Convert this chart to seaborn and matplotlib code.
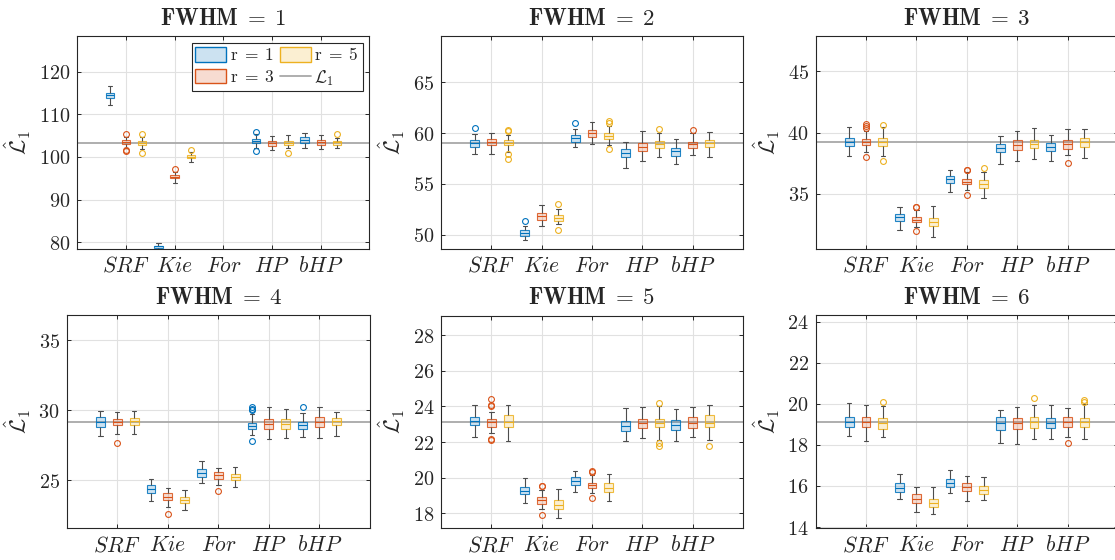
import numpy as np
import pandas as pd
import matplotlib
matplotlib.use("Agg")
import matplotlib.pyplot as plt
from matplotlib.patches import Patch
from matplotlib.lines import Line2D
import seaborn as sns

# 数据 =====================================================================
methods = ['SRF', 'Kie', 'For', 'HP', 'bHP']
r_labels = ['r = 1', 'r = 3', 'r = 5']
fwhm = [1, 2, 3, 4, 5, 6]
L1_true = [103.3, 59.07, 39.2, 29.14, 23.11, 19.1]

# 箱线图统计量, 下标 [fwhm][method][r], None = 无数据
whis_lo = [
    [[112.3, 102.1, 101.8], [78.2, 93.9, 98.8], [None] * 3, [102.1, 101.6, 102.2], [102.2, 101.8, 102.1]],
    [[57.96, 57.99, 58.1], [49.44, 50.82, 51.08], [58.65, 58.94, 58.84], [56.55, 57.24, 57.63], [56.98, 57.83, 57.63]],
    [[38.07, 38.4, 38.1], [32.09, 32.26, 31.49], [35.16, 35.35, 34.65], [37.45, 37.66, 37.85], [37.66, 38.2, 37.93]],
    [[28.14, 28.31, 28.31], [23.5, 23.12, 22.88], [24.81, 24.69, 24.55], [28.24, 27.93, 28.05], [28.07, 28.05, 28.19]],
    [[22.31, 22.49, 22.06], [18.6, 18.22, 17.76], [19.22, 19.12, 18.67], [22.04, 22.23, 22.12], [22.04, 22.31, 22.12]],
    [[18.42, 18.17, 18.38], [15.38, 14.71, 14.62], [15.64, 15.28, 15.31], [18.07, 18.04, 18.27], [18.27, 18.4, 18.27]],
]
q1 = [
    [[113.8, 103.05, 102.9], [78.7, 95.0, 99.8], [None] * 3, [103.2, 102.6, 102.8], [103.36, 102.9, 102.9]],
    [[58.68, 58.8, 58.81], [49.84, 51.47, 51.4], [59.1, 59.66, 59.43], [57.6, 58.2, 58.55], [57.76, 58.52, 58.61]],
    [[38.89, 38.99, 38.95], [32.77, 32.69, 32.36], [35.9, 35.78, 35.49], [38.4, 38.56, 38.72], [38.48, 38.7, 38.86]],
    [[28.83, 28.93, 28.93], [24.07, 23.57, 23.36], [25.26, 25.1, 25.02], [28.67, 28.67, 28.69], [28.67, 28.79, 28.93]],
    [[22.94, 22.87, 22.87], [19.07, 18.54, 18.24], [19.59, 19.4, 19.18], [22.63, 22.78, 22.82], [22.68, 22.76, 22.85]],
    [[18.85, 18.87, 18.79], [15.7, 15.17, 14.96], [15.96, 15.75, 15.62], [18.72, 18.76, 18.84], [18.8, 18.89, 18.85]],
]
median = [
    [[114.45, 103.6, 103.3], [79.0, 95.4, 100.08], [None] * 3, [103.75, 103.2, 103.3], [104.06, 103.5, 103.45]],
    [[59.0, 59.17, 59.07], [50.16, 51.8, 51.67], [59.5, 59.99, 59.73], [58.02, 58.68, 58.88], [58.19, 58.88, 59.0]],
    [[39.24, 39.27, 39.21], [33.1, 32.9, 32.72], [36.2, 36.0, 35.82], [38.72, 39.02, 39.1], [38.86, 39.08, 39.24]],
    [[29.17, 29.19, 29.21], [24.38, 23.83, 23.6], [25.55, 25.36, 25.26], [28.9, 29.02, 29.02], [28.93, 29.14, 29.21]],
    [[23.17, 23.15, 23.13], [19.27, 18.73, 18.49], [19.82, 19.57, 19.42], [22.92, 23.06, 23.06], [22.94, 23.09, 23.06]],
    [[19.1, 19.13, 19.05], [15.92, 15.38, 15.17], [16.16, 15.95, 15.82], [19.05, 19.08, 19.1], [19.08, 19.13, 19.1]],
]
q3 = [
    [[115.0, 103.95, 103.8], [79.2, 95.8, 100.5], [None] * 3, [104.2, 103.8, 103.8], [104.7, 104.06, 103.8]],
    [[59.3, 59.4, 59.33], [50.43, 52.13, 51.97], [59.8, 60.32, 60.02], [58.4, 59.05, 59.2], [58.52, 59.17, 59.33]],
    [[39.57, 39.48, 39.55], [33.37, 33.125, 33.04], [36.5, 36.2, 36.14], [39.05, 39.43, 39.43], [39.16, 39.43, 39.57]],
    [[29.5, 29.4, 29.48], [24.67, 24.07, 23.83], [25.83, 25.62, 25.45], [29.12, 29.36, 29.36], [29.19, 29.5, 29.48]],
    [[23.43, 23.32, 23.5], [19.5, 18.92, 18.75], [20.02, 19.72, 19.69], [23.19, 23.32, 23.3], [23.21, 23.43, 23.49]],
    [[19.34, 19.36, 19.29], [16.13, 15.59, 15.36], [16.34, 16.14, 15.98], [19.34, 19.31, 19.37], [19.32, 19.36, 19.33]],
]
whis_hi = [
    [[116.6, 104.8, 104.8], [79.8, 96.4, 101.1], [None] * 3, [105.3, 105.0, 105.2], [105.55, 105.1, 104.5]],
    [[59.9, 60.02, 59.85], [50.82, 52.88, 52.52], [60.38, 61.14, 60.71], [59.17, 60.25, 60.05], [59.4, 59.99, 60.15]],
    [[40.43, 40.16, 40.43], [33.91, 33.72, 33.99], [36.96, 36.77, 36.82], [39.76, 40.11, 40.38], [39.78, 40.27, 40.27]],
    [[29.98, 29.86, 29.98], [25.1, 24.43, 24.31], [26.38, 25.9, 25.98], [29.71, 30.26, 30.07], [29.83, 30.26, 29.9]],
    [[24.09, 23.71, 24.09], [19.99, 19.31, 19.37], [20.4, 20.15, 20.19], [23.92, 23.96, 24.0], [23.88, 23.99, 24.09]],
    [[20.02, 19.94, 19.89], [16.58, 15.96, 15.93], [16.78, 16.5, 16.42], [19.7, 19.86, 19.94], [19.94, 19.8, 19.99]],
]
outliers = [
    [[[], [105.4, 101.6, 101.4], [105.3, 100.9]], [[], [97.1], [101.65]], [[], [], []],
     [[105.9, 101.3], [], [100.9]], [[], [], [105.3]]],
    [[[60.48], [], [60.35, 60.25, 57.95, 57.45]], [[51.4], [], [52.98, 50.5]], [[61.0], [], [61.17, 61.04, 58.42]],
     [[], [], [60.38]], [[], [60.32], []]],
    [[[], [40.68, 40.54, 40.38, 38.04], [40.63, 37.72]], [[], [33.97, 33.9, 31.98], []], [[], [36.98, 36.93, 34.95], [37.15]],
     [[], [], []], [[], [37.55], []]],
    [[[], [27.67], []], [[], [22.6], []], [[], [24.2], []],
     [[30.24, 30.12, 30.0, 27.81], [], []], [[30.26], [], []]],
    [[[], [24.4, 24.09, 24.03, 22.18, 22.12], []], [[], [19.55, 19.52, 17.93], []], [[], [20.4, 20.3, 18.84], []],
     [[], [], [24.18, 21.97, 21.8]], [[], [], [21.76]]],
    [[[], [], [20.1]], [[], [], []], [[], [], []],
     [[], [], [20.28]], [[], [18.07], [20.19, 20.1]]],
]

# 坐标轴设置
y_limits = [(78.4, 128.4), (48.6, 69.55), (30.5, 47.9), (21.57, 36.8), (17.16, 29.1), (13.94, 24.32)]
y_ticks = [[80, 90, 100, 110, 120], [50, 55, 60, 65], [35, 40, 45], [25, 30, 35],
           [18, 20, 22, 24, 26, 28], [14, 16, 18, 20, 22, 24]]
colors = ['#0072BD', '#D95319', '#EDB120']


def expand(lo, a, m, b, hi, fl, k=4):
    # 由统计量还原一组样本, 使四分位数/须/离群点与图中一致
    low = sorted(v for v in fl if v < a)
    high = sorted(v for v in fl if v > b)
    return low + [lo] + [a] * (2 * k - len(low) - 1) + [m] + [b] * (2 * k - len(high) - 1) + [hi] + high


frames = []
for p in range(6):
    rows = []
    for i, meth in enumerate(methods):
        for j, r in enumerate(r_labels):
            if q1[p][i][j] is None:
                continue
            vals = expand(whis_lo[p][i][j], q1[p][i][j], median[p][i][j], q3[p][i][j],
                          whis_hi[p][i][j], outliers[p][i][j])
            rows += [(meth, r, v) for v in vals]
    frames.append(pd.DataFrame(rows, columns=['method', 'r', 'value']))

# 绘图 =====================================================================
sns.set_theme(style='whitegrid')
plt.rcParams['font.family'] = ['DejaVu Sans']
plt.rcParams['mathtext.fontset'] = 'cm'

fig = plt.figure(figsize=(11.15, 5.6), dpi=100)
W, H = 1115, 560
boxes_px = [(77.3, 36, 369.5, 249), (441, 36, 743, 249), (815.7, 36, 1118, 249),
            (66.7, 315, 370, 528.3), (441, 315.5, 743, 528.3), (815.7, 315, 1118, 528.3)]
palette = dict(zip(r_labels, colors))
wcol = '#4d4d4d'

for p in range(6):
    x0, y0, x1, y1 = boxes_px[p]
    ax = fig.add_axes([x0 / W, (H - y1) / H, (x1 - x0) / W, (y1 - y0) / H])
    df = frames[p]
    ax.axhline(L1_true[p], color='#a8a8a8', lw=1.3, zorder=1.5)
    for r, c in zip(r_labels, colors):
        sub = df[df['r'] == r]
        if sub.empty:
            continue
        rgb = matplotlib.colors.to_rgb(c)
        sns.boxplot(data=sub, x='method', y='value', hue='r', order=methods, hue_order=r_labels,
                    palette=palette, dodge=True, width=1.0, gap=0.475, whis=1.5, linewidth=0.8,
                    legend=False,
                    boxprops=dict(facecolor=(*rgb, 0.2), edgecolor=(*rgb, 0.85)),
                    medianprops=dict(color=c),
                    whiskerprops=dict(color=wcol), capprops=dict(color=wcol),
                    flierprops=dict(marker='o', markerfacecolor='none', markeredgecolor=c,
                                    markeredgewidth=0.8, markersize=4.2),
                    ax=ax)
    ax.set_xlim(-1, 5)
    ax.set_ylim(*y_limits[p])
    ax.set_yticks(y_ticks[p], [f'${t}$' for t in y_ticks[p]], fontsize=14.5)
    ax.set_xticks(range(len(methods)), [f'${m}$' for m in methods], fontsize=15.5)
    ax.grid(True, color='#e1e1e1', lw=0.8)
    ax.set_axisbelow(True)
    for s in ax.spines.values():
        s.set_visible(True)
        s.set_color('#262626')
        s.set_linewidth(0.8)
    ax.tick_params(direction='in', length=3, width=0.7, top=True, right=True, bottom=True, left=True,
                   colors='#262626', labelcolor='#262626', pad=5)
    ax.set_xlabel('')
    ax.set_ylabel(r'$\hat{\mathcal{L}}_1$', fontsize=16, color='#262626')
    ax.set_title(r'$\mathbf{FWHM\;=\;%d}$' % fwhm[p], fontsize=16.5, pad=8)

    if p == 0:
        handles = [Patch(facecolor=(*matplotlib.colors.to_rgb(c), 0.2), edgecolor=c, lw=1) for c in colors]
        handles.append(Line2D([], [], color='#a8a8a8', lw=1.3))
        labels = [r'$\mathrm{r\;=\;1}$', r'$\mathrm{r\;=\;3}$', r'$\mathrm{r\;=\;5}$', r'$\mathcal{L}_1$']
        leg = ax.legend(handles, labels, ncol=2, loc='upper right', fontsize=12.5, frameon=True,
                        fancybox=False, framealpha=1, edgecolor='#262626', handlelength=1.8,
                        handleheight=0.9, handletextpad=0.2, columnspacing=0.3, labelspacing=0.2,
                        borderpad=0.2, borderaxespad=0.4)
        leg.get_frame().set_linewidth(0.8)

fig.savefig('out.png', dpi=100)
